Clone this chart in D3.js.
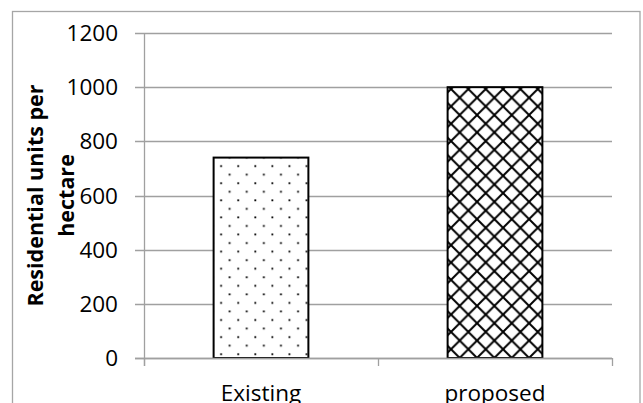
<!DOCTYPE html>
<html><head><meta charset="utf-8">
<script src="https://cdn.jsdelivr.net/npm/d3@7"></script>
<style>body{margin:0;background:#fff}svg{display:block}</style>
</head><body>
<svg id="c" width="643" height="403"></svg>
<script>
const categories = ["Existing", "proposed"];
const values = [740, 1000];
const yTicks = [0, 200, 400, 600, 800, 1000, 1200];
const yTitleLines = ["Residential units per", "hectare"];
const patterns = ["dots", "diamonds"];

const svg = d3.select("#c");
const font = "'Open Sans', 'Liberation Sans', sans-serif";
const pLeft = 144, pRight = 612, pTop = 33, pBottom = 358;

const y = d3.scaleLinear().domain([0, 1200]).range([pBottom, pTop]);
const x = d3.scaleBand().domain(categories).range([pLeft, pRight])
  .paddingInner(0.595).paddingOuter(0.2975);

// patterns
const defs = svg.append("defs");
const pd = defs.append("pattern").attr("id", "dots").attr("patternUnits", "userSpaceOnUse")
  .attr("x", 217).attr("y", 162).attr("width", 17.1).attr("height", 17.1);
pd.append("rect").attr("width", 17.1).attr("height", 17.1).attr("fill", "#fff");
pd.append("rect").attr("x", 3.2).attr("y", 3.2).attr("width", 1.8).attr("height", 1.8).attr("fill", "#000");
pd.append("rect").attr("x", 11.75).attr("y", 11.75).attr("width", 1.8).attr("height", 1.8).attr("fill", "#000");

const T = 17.35;
const pdm = defs.append("pattern").attr("id", "diamonds").attr("patternUnits", "userSpaceOnUse")
  .attr("x", 451 - T / 2).attr("y", 89 - T / 2).attr("width", T).attr("height", T);
pdm.append("rect").attr("width", T).attr("height", T).attr("fill", "#fff");
pdm.append("path")
  .attr("d", `M-2,-2L${T+2},${T+2}M${T-2},-2L${T+2},2M-2,${T-2}L2,${T+2}M${T+2},-2L-2,${T+2}M-2,2L2,-2M${T-2},${T+2}L${T+2},${T-2}`)
  .attr("stroke", "#000").attr("stroke-width", 2).attr("fill", "none");

// outer border
svg.append("rect").attr("x", 12.5).attr("y", 11.5).attr("width", 627.5).attr("height", 420)
  .attr("fill", "none").attr("stroke", "#a6a6a6").attr("stroke-width", 1.3);

// gridlines
svg.append("g").selectAll("line").data(yTicks).join("line")
  .attr("x1", pLeft - 9).attr("x2", pRight)
  .attr("y1", d => Math.round(y(d)) + 0.5).attr("y2", d => Math.round(y(d)) + 0.5)
  .attr("stroke", "#a0a0a0").attr("stroke-width", 1.3);

svg.append("g").selectAll("text").data(yTicks).join("text")
  .attr("x", 118).attr("y", d => y(d)).attr("dy", "0.36em")
  .attr("text-anchor", "end").attr("font-family", font).attr("font-size", 22.5)
  .attr("fill", "#000").text(d => d);

// bars
svg.append("g").selectAll("rect").data(categories).join("rect")
  .attr("x", d => x(d)).attr("width", x.bandwidth())
  .attr("y", (d, i) => y(values[i])).attr("height", (d, i) => y(0) - y(values[i]))
  .attr("fill", (d, i) => `url(#${patterns[i]})`)
  .attr("stroke", "#000").attr("stroke-width", 2);

// axes lines
svg.append("line").attr("x1", pLeft - 9).attr("x2", pRight)
  .attr("y1", Math.round(y(0)) + 0.5).attr("y2", Math.round(y(0)) + 0.5)
  .attr("stroke", "#a0a0a0").attr("stroke-width", 1.3);
svg.append("line").attr("x1", pLeft + 0.5).attr("x2", pLeft + 0.5)
  .attr("y1", pTop).attr("y2", pBottom + 8)
  .attr("stroke", "#a0a0a0").attr("stroke-width", 1.3);
const bounds = d3.range(categories.length + 1).map(i => pLeft + i * x.step());
svg.append("g").selectAll("line").data(bounds).join("line")
  .attr("x1", d => Math.round(d) + 0.5).attr("x2", d => Math.round(d) + 0.5)
  .attr("y1", pBottom).attr("y2", pBottom + 8)
  .attr("stroke", "#a0a0a0").attr("stroke-width", 1.3);

// x labels
svg.append("g").selectAll("text").data(categories).join("text")
  .attr("x", d => x(d) + x.bandwidth() / 2).attr("y", 401)
  .attr("text-anchor", "middle").attr("font-family", font).attr("font-size", 22.5)
  .attr("fill", "#000").text(d => d);

// y title
const cy = (pTop + pBottom) / 2;
svg.append("g").selectAll("text").data(yTitleLines).join("text")
  .attr("transform", (d, i) => `translate(${43 + i * 31},${cy}) rotate(-90)`)
  .attr("text-anchor", "middle").attr("font-family", font).attr("font-size", 21.5)
  .attr("font-weight", "bold").attr("fill", "#000").text(d => d);
</script>
</body></html>
